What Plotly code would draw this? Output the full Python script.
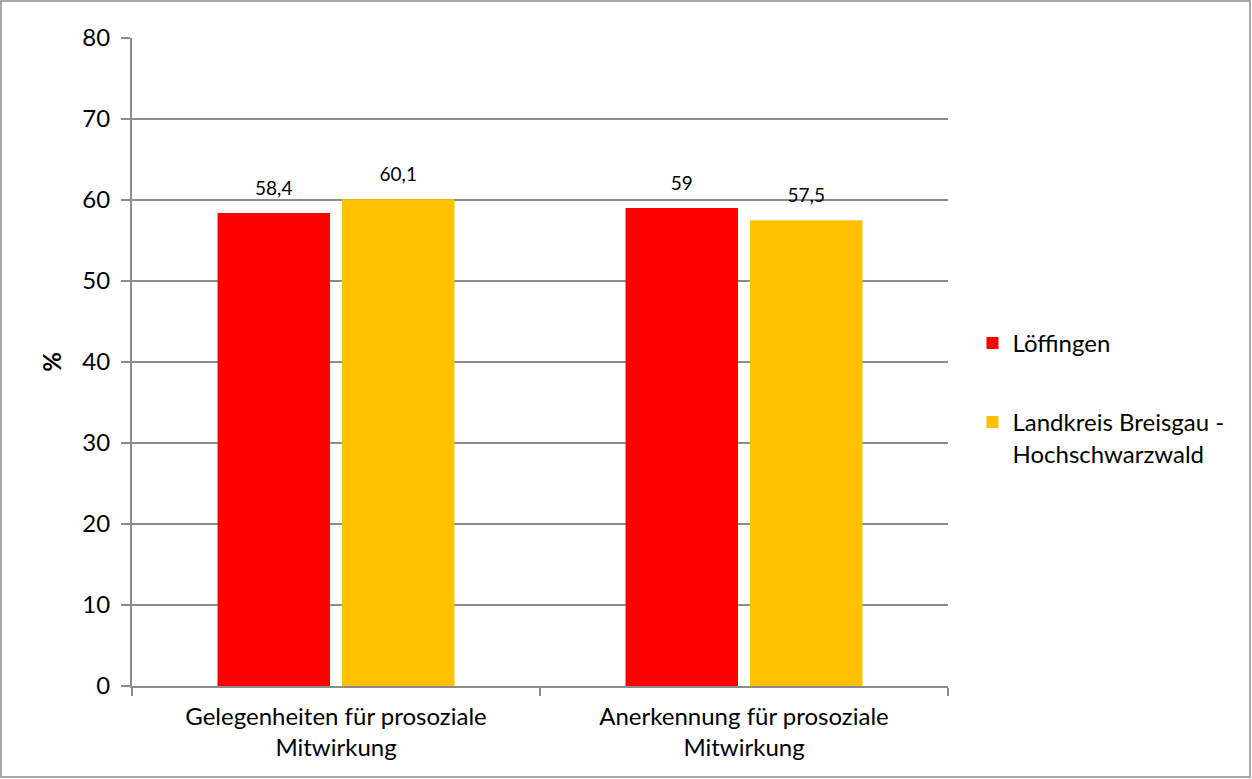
import plotly.graph_objects as go

categories = ["Gelegenheiten für prosoziale<br>Mitwirkung", "Anerkennung für prosoziale<br>Mitwirkung"]
series_names = ["Löffingen", "Landkreis Breisgau -<br>Hochschwarzwald"]
loeffingen = [58.4, 59]
landkreis = [60.1, 57.5]
y_ticks = [0, 10, 20, 30, 40, 50, 60, 70, 80]

def fmt(v):
    return ("%g" % v).replace(".", ",")

FONT = "Lato, 'Open Sans', sans-serif"
colors = ["#FF0000", "#FFC000"]

fig = go.Figure()
for i, (name, vals) in enumerate(zip(series_names, [loeffingen, landkreis])):
    fig.add_trace(go.Bar(
        x=categories, y=vals, name=name,
        marker=dict(color=colors[i], line=dict(width=0)),
        offsetgroup=str(i), legendgroup=str(i),
        hoverinfo="y",
    ))
for i, vals in enumerate([loeffingen, landkreis]):
    fig.add_trace(go.Scatter(
        x=categories, y=vals, mode="markers+text",
        text=[fmt(v) for v in vals], textposition="top center",
        textfont=dict(size=19, color="#000000", family=FONT),
        marker=dict(size=20, opacity=0),
        offsetgroup=str(i), showlegend=False, hoverinfo="skip",
        cliponaxis=False,
    ))

fig.update_layout(
    width=1252, height=779,
    margin=dict(l=132, r=304, t=38, b=93),
    paper_bgcolor="white", plot_bgcolor="white",
    font=dict(family=FONT, size=24, color="#000000"),
    barmode="group", bargap=0.39, bargroupgap=0.096,
    scattermode="group", scattergap=0.39,
    showlegend=True,
    legend=dict(x=1.03, y=0.444, xanchor="left", yanchor="middle",
                font=dict(size=24, family=FONT), tracegroupgap=45,
                valign="top", itemwidth=30),
    xaxis=dict(showline=True, linecolor="#8C8C8C", linewidth=2,
               ticks="outside", tickson="boundaries", ticklen=8,
               tickcolor="#8C8C8C", tickwidth=2, ticklabelstandoff=8,
               tickfont=dict(size=24, family=FONT)),
    yaxis=dict(range=[0, 80], tickvals=y_ticks, showline=True,
               linecolor="#8C8C8C", linewidth=2,
               ticks="outside", ticklen=9, tickcolor="#8C8C8C", tickwidth=2,
               ticklabelstandoff=6,
               showgrid=True, gridcolor="#8C8C8C", gridwidth=2,
               zeroline=False,
               tickfont=dict(size=24, family=FONT),
               title=dict(text="<b>%</b>", font=dict(size=24, family=FONT), standoff=14)),
)

# outer chart border
fig.add_shape(type="rect", xref="paper", yref="paper",
              x0=(1 - 132) / 816, x1=(1250 - 132) / 816,
              y0=(686 - 777) / 648, y1=(686 - 1) / 648,
              line=dict(color="#8C8C8C", width=1.5), fillcolor="rgba(0,0,0,0)",
              layer="below")

fig.write_html("out.html", config={"displayModeBar": False},
               post_script="document.body.style.margin='0';")
